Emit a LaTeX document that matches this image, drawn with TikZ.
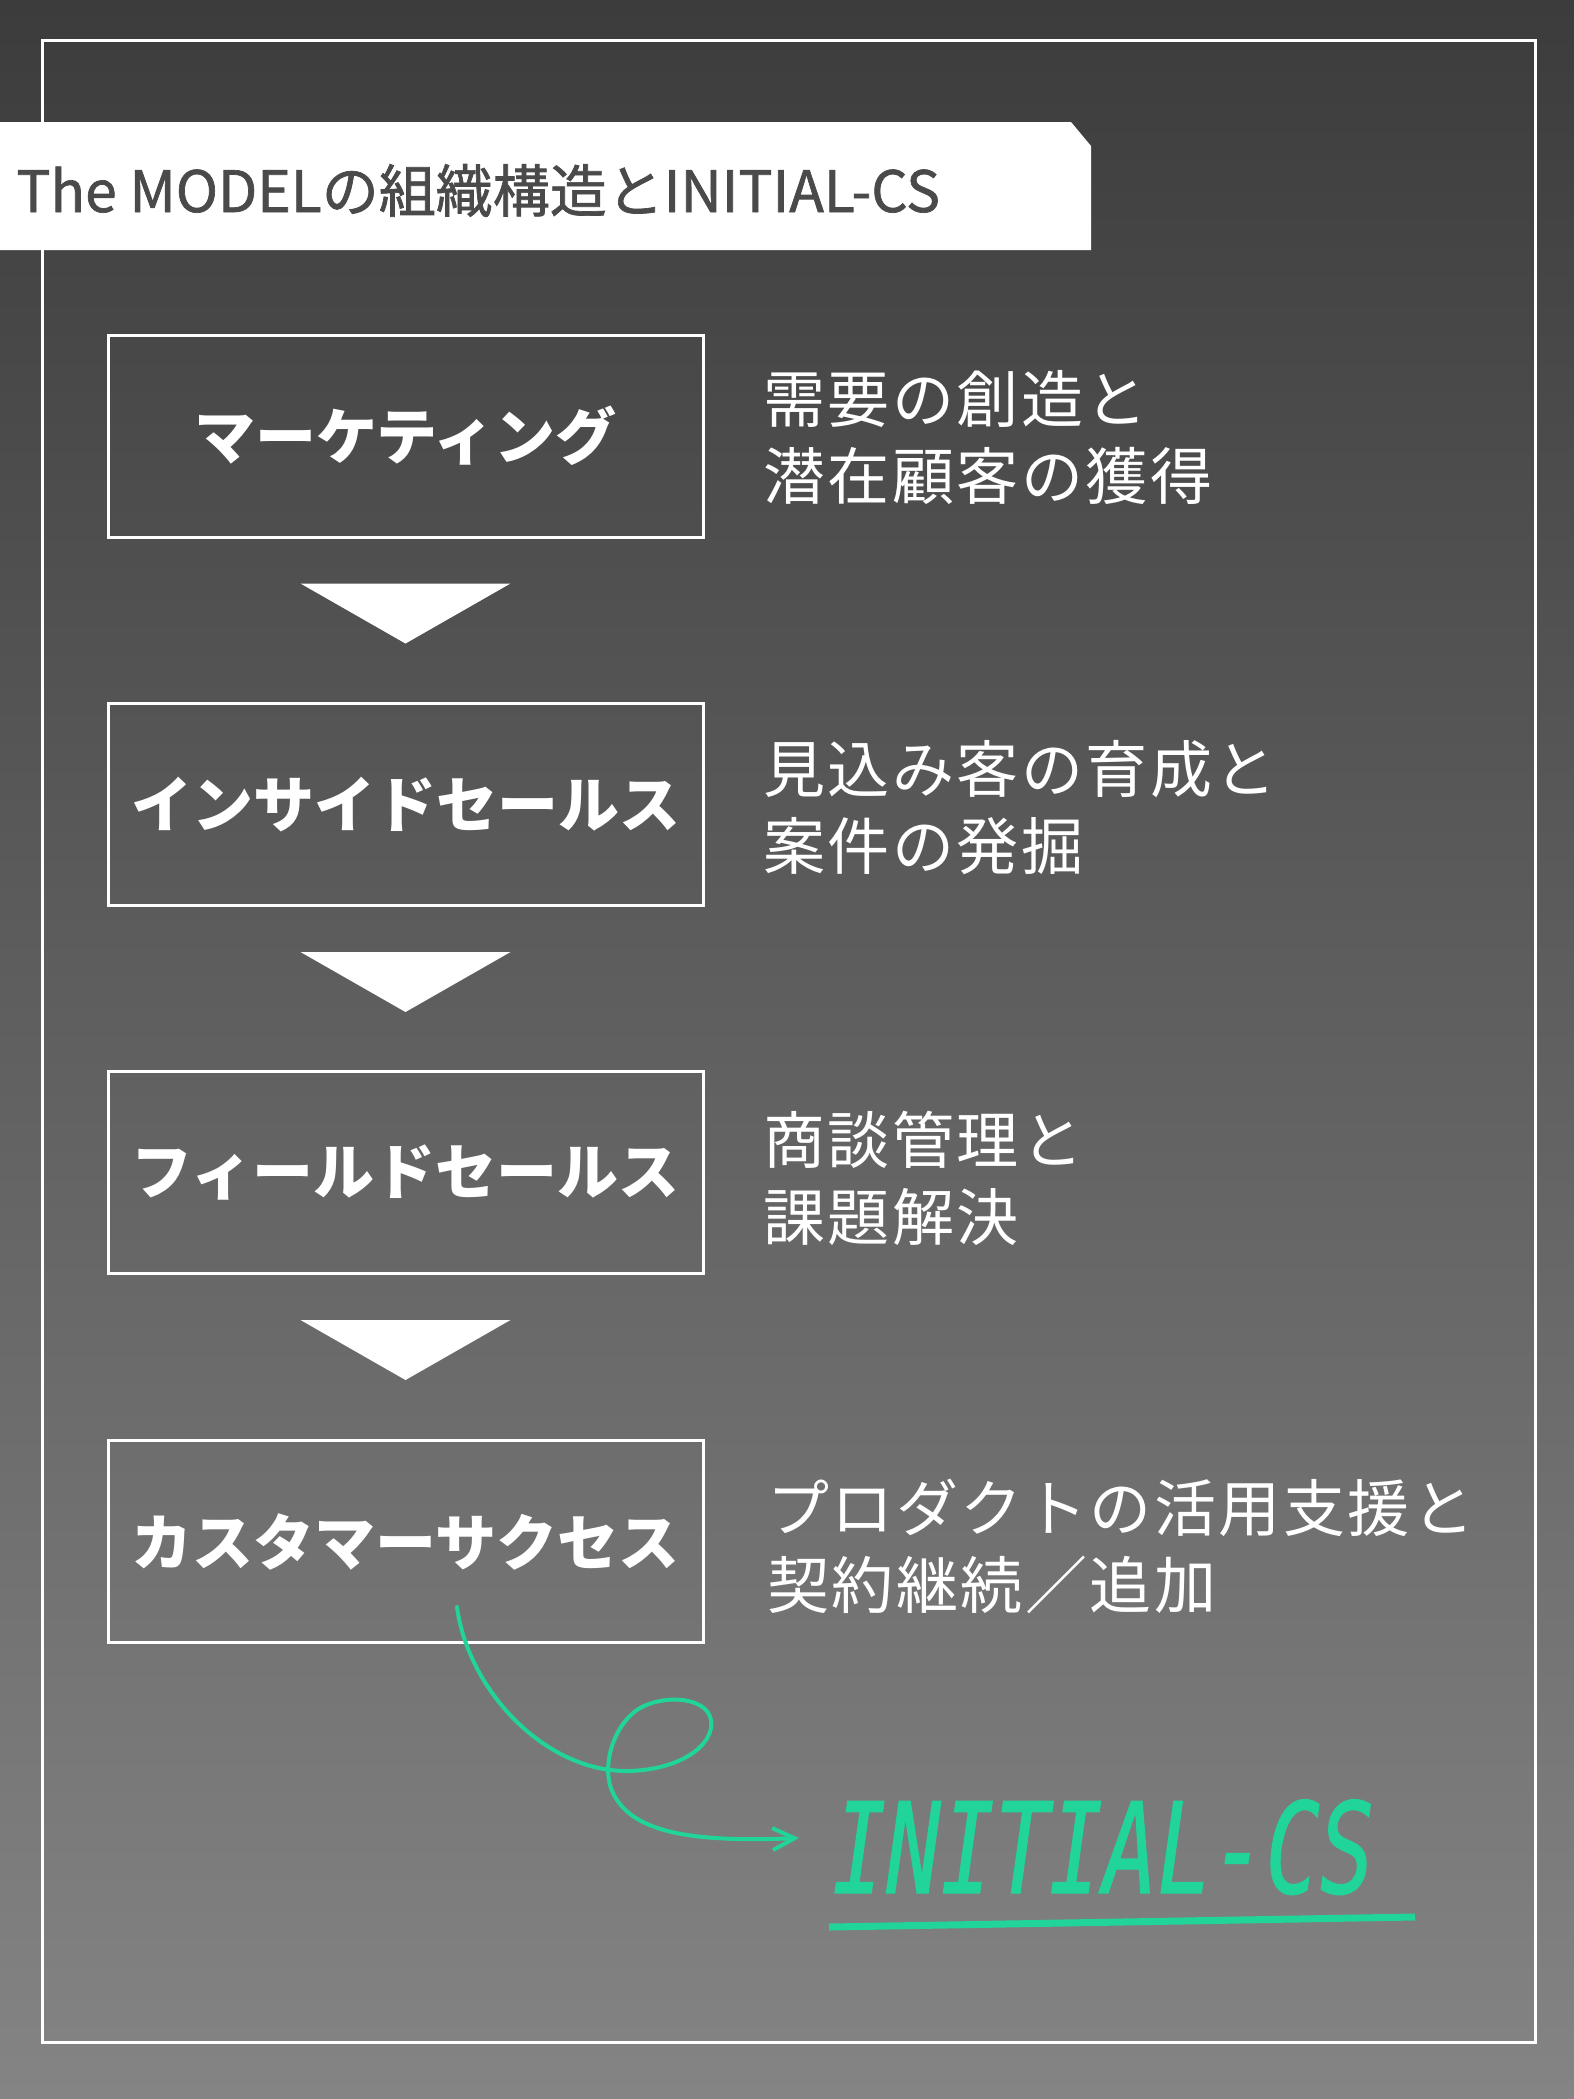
\documentclass[tikz,border=0pt]{standalone}
\usepackage{fontspec}
\usetikzlibrary{arrows.meta,calc}
\newfontfamily\jp{Noto Sans CJK JP}
\newfontfamily\icsfont{DejaVu Sans Mono}
\definecolor{mint}{RGB}{32,212,154}
\definecolor{titlegray}{RGB}{74,74,74}
\definecolor{bgtop}{RGB}{60,60,60}
\definecolor{bgmid}{RGB}{88,88,88}
\definecolor{bgbot}{RGB}{132,132,132}
\begin{document}
\begin{tikzpicture}[x=0.5pt,y=-0.5pt,
  stagebox/.style={draw=white, line width=1.5pt, minimum width=297.5pt, minimum height=101pt,
    inner sep=0pt, text=white, font=\jp\bfseries\fontsize{30.5pt}{30.5pt}\selectfont},
  desc/.style={anchor=west, text=white, inner sep=0pt, align=left,
    font=\jp\fontsize{31pt}{38.5pt}\selectfont\addfontfeatures{LetterSpace=4}},
  flowtri/.style={fill=white},
  greenline/.style={draw=mint, line width=2pt, line cap=round}
]
\useasboundingbox (0,0) rectangle (1574,2099);
\shade[top color=bgtop, middle color=bgmid, bottom color=bgbot] (0,0) rectangle (1574,2099);
% frame
\draw[white, line width=1.5pt] (42,40) rectangle (1535,2042);
% title banner
\fill[white] (0,122) -- (1071,122) -- (1091,146) -- (1091,250) -- (0,250) -- cycle;
\node[anchor=base west, inner sep=0pt, text=titlegray, font=\jp\fontsize{28.5pt}{28.5pt}\selectfont\addfontfeatures{FakeBold=1.2}] (title) at (16,212) {The MODELの組織構造とINITIAL-CS};
% boxes
\node[stagebox] (mk) at (405.5,436) {マーケティング};
\node[stagebox] (is) at (405.5,804.5) {インサイドセールス};
\node[stagebox] (fs) at (405.5,1172.5) {フィールドセールス};
\node[stagebox] (cs) at (405.5,1541.5) {カスタマーサクセス};
% triangles
\foreach \b in {mk,is,fs}{
  \fill[flowtri] ($(\b.south)+(-105,45)$) -- ($(\b.south)+(105,45)$) -- ($(\b.south)+(0,105)$) -- cycle;
}
% descriptions
\node[desc] (d1) at (763,437) {需要の創造と\\潜在顧客の獲得};
\node[desc] (d2) at (763,808) {見込み客の育成と\\案件の発掘};
\node[desc] (d3) at (763,1178) {商談管理と\\課題解決};
\node[desc] (d4) at (767,1546) {プロダクトの活用支援と\\契約継続／追加};
% INITIAL-CS
\node[anchor=base west, inner sep=0pt, text=mint, yscale=1.4,
  font=\icsfont\itshape\fontsize{45pt}{45pt}\selectfont\addfontfeatures{FakeBold=1}] (ics) at (832,1893) {INITIAL-CS};
\coordinate (ul1) at (829,1927);
\coordinate (ul2) at (1415,1917);
\draw[draw=mint, line width=3.5pt] (ul1) -- (ul2);
% curly arrow
\coordinate (arrstart) at (457,1607);
\coordinate (arrend) at (799,1838);
\draw[greenline, -{Straight Barb[length=11pt,width=11pt,line width=2pt]}]
  (arrstart) .. controls (468,1690) and (545,1772) .. (628,1771)
  .. controls (680,1770) and (715,1745) .. (711,1720)
  .. controls (707,1697) and (665,1694) .. (640,1708)
  .. controls (612,1725) and (600,1770) .. (614,1795)
  .. controls (635,1835) and (700,1842) .. (arrend);
\end{tikzpicture}
\end{document}
